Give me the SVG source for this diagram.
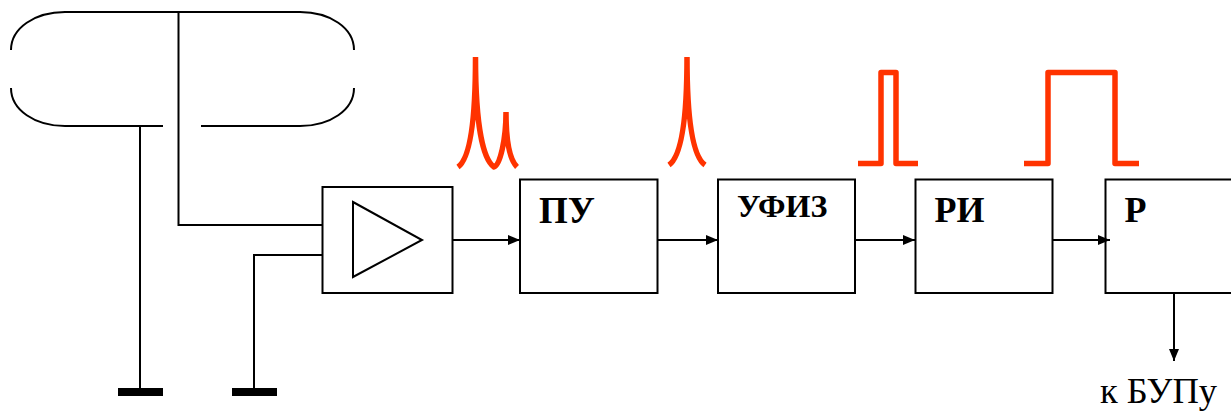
<svg xmlns="http://www.w3.org/2000/svg" width="1231" height="411" viewBox="0 0 1231 411">
<style>
.l{fill:none;stroke:#000;stroke-width:2}
.b{fill:#fff;stroke:#000;stroke-width:2}
.r{fill:none;stroke:#ff3300;stroke-width:5.500;stroke-linejoin:round}
.t{font-family:"Liberation Serif",serif;font-size:36px;font-weight:bold;fill:#000}
</style>
<defs><marker id="a" markerUnits="userSpaceOnUse" markerWidth="12" markerHeight="10" refX="12" refY="5" orient="auto"><path d="M0 0L12 5L0 10Z" fill="#000"/></marker></defs>
<rect width="1231" height="411" fill="#fff"/>
<g id="antenna">
<path class="l" d="M11 50C11 28 35 12 65 12H300C330 12 354 28 354 50"/>
<path class="l" d="M11 88C11 110 35 126 65 126H163"/>
<path class="l" d="M201 126H300C330 126 354 110 354 88"/>
</g>
<g id="ground1"><rect x="118" y="388" width="45" height="8" fill="#000"/></g>
<g id="ground2"><rect x="232" y="388" width="45" height="8" fill="#000"/></g>
<g id="connectors">
<path class="l" d="M140 126V388"/>
<path class="l" d="M178.500 12V225H322"/>
<path class="l" d="M254 388V255H322"/>
<path class="l" marker-end="url(#a)" d="M452 240H520"/>
<path class="l" marker-end="url(#a)" d="M658 240H718"/>
<path class="l" marker-end="url(#a)" d="M855 240H915"/>
<path class="l" marker-end="url(#a)" d="M1053 240H1110"/>
<path class="l" marker-end="url(#a)" d="M1174 293V361"/>
</g>
<g id="amp"><rect class="b" x="322.500" y="187" width="130" height="106"/><path class="l" d="M353 202L422 240L353 277Z"/></g>
<g id="pu"><rect class="b" x="520" y="179.500" width="137.500" height="113.500"/><text class="t" x="539" y="223" style="font-size:37px">ПУ</text></g>
<g id="ufiz"><rect class="b" x="718" y="179.500" width="137" height="113.500"/><text class="t" x="737" y="217" style="font-size:32px">УФИЗ</text></g>
<g id="ri"><rect class="b" x="915.500" y="179.500" width="137" height="113.500"/><text class="t" x="934.500" y="222">РИ</text></g>
<g id="r"><rect class="l" x="1105.500" y="179.500" width="130" height="113.500"/><text class="t" x="1124.500" y="222">Р</text></g>
<g id="signals">
<path class="r" d="M458 167C468 160 475.500 130 475.500 57M475.500 57C475.500 130 484 160 494 167C500 165 506 140 506 112M506 112C506 140 510 160 517 167"/>
<path class="r" d="M669 165C679 158 687 130 687 57M687 57C687 130 695 158 705 165"/>
<path class="r" d="M858 163.500H881V72.500H896V163.500H918"/>
<path class="r" d="M1024 163.500H1048V72.500H1115V163.500H1139"/>
</g>
<text x="1100" y="403" style="font-family:'Liberation Serif',serif;font-size:36.500px;fill:#000">к БУПу</text>
</svg>
